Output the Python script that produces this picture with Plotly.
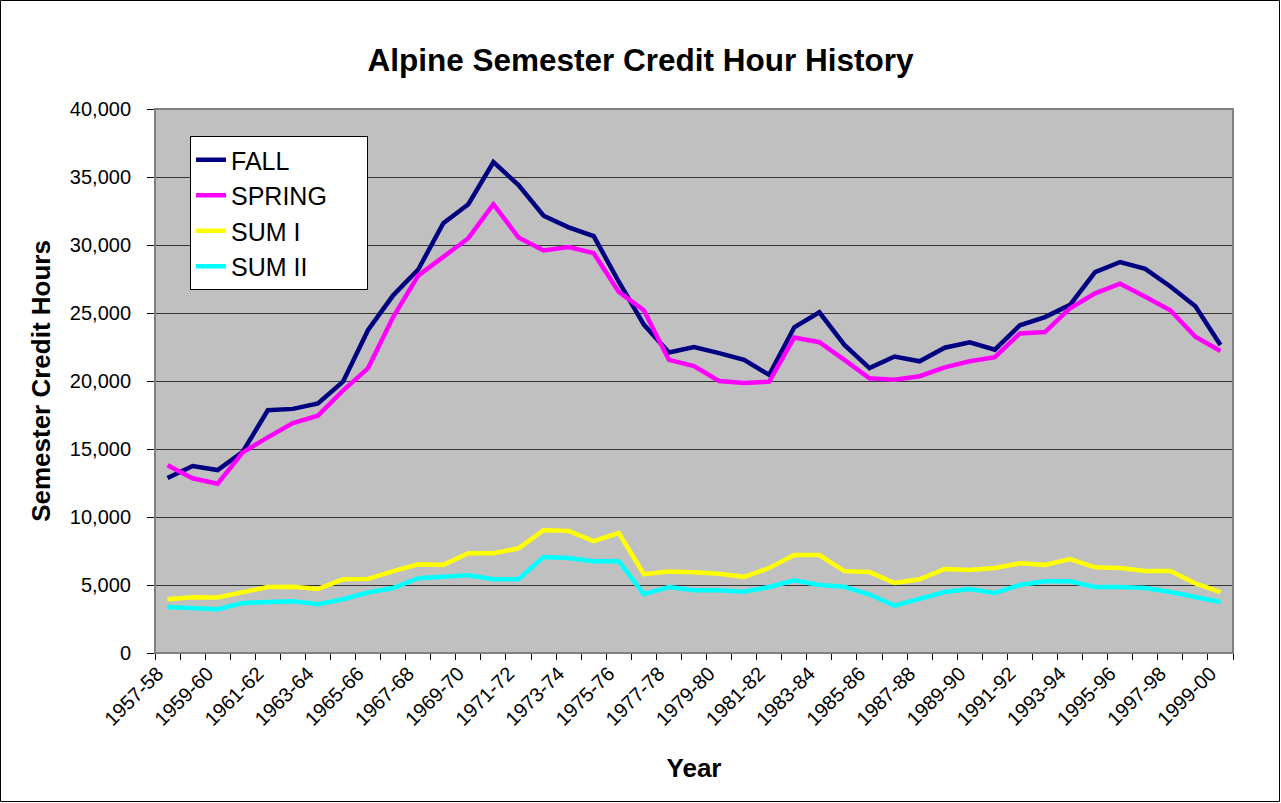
import plotly.graph_objects as go

YEARS = [
    "1957-58", "1958-59", "1959-60", "1960-61", "1961-62", "1962-63", "1963-64",
    "1964-65", "1965-66", "1966-67", "1967-68", "1968-69", "1969-70", "1970-71",
    "1971-72", "1972-73", "1973-74", "1974-75", "1975-76", "1976-77", "1977-78",
    "1978-79", "1979-80", "1980-81", "1981-82", "1982-83", "1983-84", "1984-85",
    "1985-86", "1986-87", "1987-88", "1988-89", "1989-90", "1990-91", "1991-92",
    "1992-93", "1993-94", "1994-95", "1995-96", "1996-97", "1997-98", "1998-99",
    "1999-00",
]

FALL = [12870, 13750, 13450, 14800, 17850, 17950, 18350, 19950, 23750, 26300,
        28200, 31600, 33000, 36100, 34400, 32150, 31300, 30650, 27300, 24150,
        22100, 22500, 22050, 21550, 20450, 23950, 25050, 22650, 20950, 21800,
        21450, 22450, 22850, 22300, 24100, 24700, 25600, 28000, 28750, 28250,
        26950, 25500, 22650]
SPRING = [13800, 12850, 12450, 14750, 15850, 16900, 17450, 19300, 20950, 24700,
          27750, 29100, 30500, 33000, 30550, 29600, 29850, 29400, 26550, 25200,
          21550, 21100, 20000, 19850, 19950, 23200, 22850, 21550, 20200, 20100,
          20350, 21000, 21450, 21750, 23500, 23600, 25350, 26450, 27150, 26200,
          25200, 23250, 22200]
SUM_I = [3950, 4100, 4080, 4480, 4850, 4870, 4700, 5420, 5450, 6020,
         6520, 6480, 7330, 7330, 7700, 9030, 8980, 8220, 8820, 5800,
         6000, 5930, 5820, 5600, 6250, 7200, 7200, 6020, 5950, 5150,
         5420, 6180, 6100, 6250, 6600, 6480, 6900, 6300, 6250, 6030,
         6030, 5120, 4480]
SUM_II = [3380, 3300, 3220, 3680, 3750, 3800, 3580, 3950, 4450, 4780,
          5500, 5580, 5720, 5420, 5430, 7050, 6980, 6750, 6750, 4330,
          4850, 4620, 4620, 4500, 4850, 5350, 5000, 4870, 4300, 3480,
          3950, 4480, 4700, 4420, 5000, 5280, 5280, 4850, 4850, 4780,
          4480, 4120, 3750]

SERIES = [
    ("FALL", FALL, "#000080"),
    ("SPRING", SPRING, "#FF00FF"),
    ("SUM I", SUM_I, "#FFFF00"),
    ("SUM II", SUM_II, "#00FFFF"),
]

W, H = 1281, 803
ML, MR, MT, MB = 155, 48, 109, 150
FONT = "Arial, Liberation Sans, sans-serif"

idx = list(range(len(YEARS)))

fig = go.Figure()
for name, vals, color in SERIES:
    fig.add_trace(
        go.Scatter(
            x=idx,
            y=vals,
            mode="lines",
            # trailing spaces widen the legend box a bit, as in the original
            name=name + "\u00a0" * 5,
            line={"color": color, "width": 4.5},
            hovertemplate="%{text}<br>%{y:,}<extra>" + name + "</extra>",
            text=YEARS,
        )
    )

pw, ph = W - ML - MR, H - MT - MB
shapes = [
    # plot area frame
    dict(type="rect", xref="paper", yref="paper", x0=0, x1=1, y0=0, y1=1,
         line={"color": "#808080", "width": 2}, layer="above"),
    # outer chart border
    dict(type="rect", xref="paper", yref="paper",
         x0=(-ML + 0.5) / pw, x1=1 + (MR - 1.5) / pw,
         y0=(-MB + 1.5) / ph, y1=1 + (MT - 0.5) / ph,
         line={"color": "black", "width": 1}),
]

# labels sit a little left of the category centre, like the original
label_pos = [i - 0.4 for i in idx[::2]]

fig.update_layout(
    width=W,
    height=H,
    paper_bgcolor="white",
    plot_bgcolor="#C0C0C0",
    font={"family": FONT, "color": "black", "size": 20},
    margin={"l": ML, "r": MR, "t": MT, "b": MB, "pad": 0},
    title={
        "text": "<b>Alpine Semester Credit Hour History</b>",
        "font": {"size": 31.5},
        "x": 0.5,
        "xanchor": "center",
        "y": 1 - 60 / H,
        "yanchor": "middle",
    },
    xaxis={
        "range": [-0.5, len(YEARS) - 0.5],
        "tickmode": "array",
        "tickvals": label_pos,
        "ticktext": YEARS[::2],
        "tickangle": -45,
        "ticks": "",
        "tickfont": {"size": 20},
        "showgrid": False,
        "zeroline": False,
        "showline": True,
        "linecolor": "black",
        "linewidth": 1,
        "minor": {"tickmode": "linear", "tick0": -0.5, "dtick": 1,
                  "ticks": "outside", "ticklen": 6, "tickcolor": "black",
                  "showgrid": False},
        "title": {"text": "<b>Year</b>", "font": {"size": 26}, "standoff": 29},
    },
    yaxis={
        "range": [0, 40000],
        "dtick": 5000,
        "tickformat": ",",
        "ticks": "outside",
        "ticklen": 7,
        "tickcolor": "black",
        "ticklabelstandoff": 12,
        "tickfont": {"size": 20},
        "showgrid": True,
        "gridcolor": "#333333",
        "gridwidth": 1,
        "zeroline": False,
        "showline": True,
        "linecolor": "black",
        "linewidth": 1,
        "title": {"text": "<b>Semester Credit Hours</b>", "font": {"size": 26}, "standoff": 11},
    },
    legend={
        "x": 35 / pw,
        "y": 1 - 27 / ph,
        "xanchor": "left",
        "yanchor": "top",
        "bgcolor": "white",
        "bordercolor": "black",
        "borderwidth": 1,
        "font": {"size": 25},
        "tracegroupgap": 0,
    },
    shapes=shapes,
    showlegend=True,
)

fig.write_html(
    "out.html",
    config={"displayModeBar": False},
    post_script="document.body.style.margin='0';",
)
